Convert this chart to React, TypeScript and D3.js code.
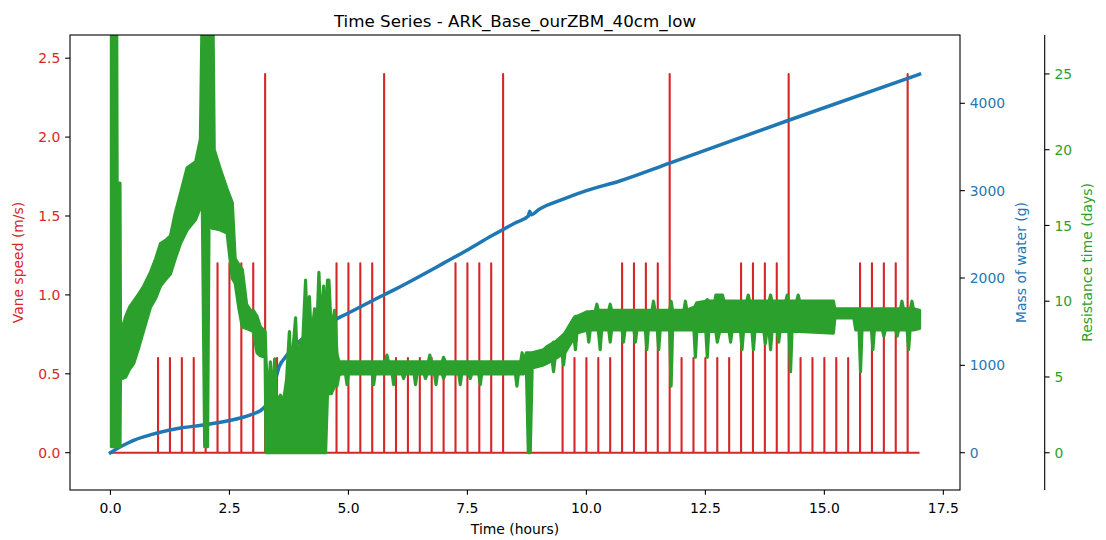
import React from 'react';
import * as d3 from 'd3';

// ---------- data ----------
// Vane speed: baseline 0 with single-sample pulses
const vaneStart = 0;
const vaneEnd = 17;
const vaneSpikeTimes = [
  1.0, 1.25, 1.5, 1.75, 2.0, 2.25, 2.5, 2.75, 3.0, 3.25,
  3.5, 3.75, 4.0, 4.25, 4.5, 4.75, 5.0, 5.25, 5.5, 5.75,
  6.0, 6.25, 6.5, 6.75, 7.0, 7.25, 7.5, 7.75, 8.0, 8.25,
  9.5, 9.75, 10.0, 10.25, 10.5, 10.75, 11.0, 11.25, 11.5, 11.75,
  12.0, 12.25, 12.5, 12.75, 13.0, 13.25, 13.5, 13.75, 14.0, 14.25,
  14.5, 14.75, 15.0, 15.25, 15.5, 15.75, 16.0, 16.25, 16.5, 16.75,
];
const vaneSpikeValues = [
  0.6, 0.6, 0.6, 0.6, 0.6, 1.2, 1.2, 1.2, 1.2, 2.4,
  0.6, 0.6, 0.6, 0.6, 0.6, 1.2, 1.2, 1.2, 1.2, 2.4,
  0.6, 0.6, 0.6, 0.6, 0.6, 1.2, 1.2, 1.2, 1.2, 2.4,
  0.6, 0.6, 0.6, 0.6, 0.6, 1.2, 1.2, 1.2, 1.2, 2.4,
  0.6, 0.6, 0.6, 0.6, 0.6, 1.2, 1.2, 1.2, 1.2, 2.4,
  0.6, 0.6, 0.6, 0.6, 0.6, 1.2, 1.2, 1.2, 1.2, 2.4,
];

// Mass of water (g)
const massTimes = [
  0, 0.1, 0.25, 0.5, 0.75, 1.0, 1.5, 2.0, 2.5, 2.75, 3.0, 3.15, 3.25, 3.35, 3.45, 3.55,
  3.68, 3.92, 4.2, 4.62, 5.0, 5.5, 6.0, 6.5, 7.0, 7.5, 8.0, 8.5, 8.78, 8.81, 8.84, 9.0,
  9.5, 10.0, 10.7, 11.75, 14.25, 17.0,
];
const massValues = [
  0, 35, 80, 145, 190, 228, 285, 320, 368, 400, 445, 480, 530, 620, 800, 990,
  1097, 1250, 1367, 1496, 1600, 1740, 1875, 2020, 2170, 2320, 2480, 2630, 2710, 2765, 2725, 2785,
  2900, 3000, 3111, 3316, 3806, 4334,
];

// Resistance time (days): dense noisy series read as [time, low, high] envelope
const resistanceEnvelope: [number, number, number][] = [
  [0.02, 0.4, 30], [0.13, 0.4, 30], [0.14, 0.4, 17.8], [0.2, 0.4, 17.8],
  [0.21, 4.9, 8.6], [0.25, 4.9, 8.2], [0.32, 5.0, 9.0], [0.4, 5.5, 9.6], [0.49, 5.9, 10.0],
  [0.6, 7.0, 10.5], [0.7, 8.1, 11.0], [0.84, 9.6, 11.9], [0.95, 10.2, 12.8], [1.05, 11.0, 13.8],
  [1.15, 11.4, 14.0], [1.26, 11.8, 14.3], [1.36, 12.8, 15.8], [1.47, 13.8, 17.1], [1.61, 14.7, 18.8],
  [1.79, 15.4, 19.2], [1.89, 16.2, 20.7], [1.93, 16.5, 30], [1.98, 0.4, 30], [2.04, 0.4, 30],
  [2.07, 15.0, 30], [2.15, 14.8, 30], [2.18, 14.8, 20.0], [2.31, 14.7, 18.7], [2.45, 14.5, 17.4],
  [2.56, 11.5, 16.5], [2.62, 11.2, 12.8], [2.7, 9.5, 12.4], [2.77, 8.3, 12.1], [2.86, 8.2, 9.8],
  [2.94, 8.1, 9.4], [3.0, 8.0, 9.4], [3.08, 6.6, 9.0], [3.15, 6.4, 8.3], [3.25, 6.3, 8.0],
  [3.27, 0, 6.0], [3.32, 0, 3.4], [3.36, 0, 6.0], [3.4, 0, 3.3], [3.45, 0, 6.2], [3.49, 0, 3.3],
  [3.57, 0, 3.8], [3.63, 0, 3.3], [3.7, 0, 4.8], [3.76, 0, 8.0], [3.8, 0, 4.8], [3.84, 0, 7.0],
  [3.89, 0, 8.9], [3.93, 0, 5.5], [3.99, 0, 7.4], [4.03, 0, 6.6], [4.1, 0, 11.4], [4.14, 0, 7.0],
  [4.18, 0, 10.3], [4.22, 0, 7.5], [4.29, 0, 9.5], [4.33, 0, 7.5], [4.38, 0, 11.9], [4.42, 0, 8.5],
  [4.48, 0, 11.0], [4.52, 0, 8.0], [4.56, 3.9, 11.4], [4.59, 3.9, 11.4], [4.64, 3.9, 8.0],
  [4.71, 4.4, 9.4], [4.76, 4.4, 6.5], [4.8, 5.1, 6.0],
  [4.85, 5.2, 6.0], [4.94, 5.2, 6.0], [4.97, 4.5, 6.0], [5.0, 5.2, 6.0], [5.5, 5.2, 6.0],
  [5.53, 4.5, 6.0], [5.56, 5.2, 6.0], [5.78, 5.2, 6.0], [5.81, 5.2, 6.45], [5.84, 5.2, 6.0],
  [5.92, 5.2, 6.0], [5.95, 4.5, 6.0], [5.98, 5.2, 6.0], [6.13, 5.2, 6.0], [6.16, 4.9, 6.0],
  [6.19, 5.2, 6.0], [6.38, 5.2, 6.0], [6.41, 4.5, 6.0], [6.44, 5.2, 6.0], [6.59, 5.2, 6.0],
  [6.62, 4.9, 6.0], [6.65, 5.2, 6.0], [6.68, 5.2, 6.0], [6.71, 5.2, 6.45], [6.74, 5.2, 6.0],
  [6.81, 5.2, 6.0], [6.84, 4.5, 6.0], [6.87, 5.2, 6.0], [6.97, 5.2, 6.0], [7.0, 4.9, 6.3],
  [7.03, 5.2, 6.0], [7.32, 5.2, 6.0], [7.35, 4.5, 6.0], [7.38, 5.2, 6.0], [7.53, 5.2, 6.0],
  [7.56, 4.9, 6.0], [7.59, 5.2, 6.0], [7.74, 5.2, 6.0], [7.77, 4.5, 6.0], [7.8, 5.2, 6.0],
  [8.51, 5.2, 6.0], [8.54, 4.4, 6.0], [8.57, 5.2, 6.0], [8.62, 5.2, 6.0], [8.65, 5.2, 6.6],
  [8.68, 5.2, 6.0], [8.74, 5.6, 6.6], [8.78, 0, 6.6], [8.82, 0, 6.6], [8.86, 5.6, 6.6],
  [9.1, 5.8, 6.8], [9.17, 5.9, 7.0], [9.28, 6.1, 7.2], [9.31, 5.35, 7.3], [9.34, 6.2, 7.3],
  [9.49, 6.5, 7.7], [9.52, 5.8, 7.8], [9.55, 6.6, 7.9], [9.74, 7.6, 8.9], [9.77, 6.8, 9.0],
  [9.8, 7.9, 9.0], [10.02, 8.1, 9.3], [10.05, 7.3, 9.3], [10.08, 8.1, 9.3], [10.19, 8.1, 9.4],
  [10.22, 8.1, 9.8], [10.25, 8.1, 9.4], [10.29, 6.8, 9.4], [10.32, 8.1, 9.4], [10.47, 8.1, 9.4],
  [10.5, 7.3, 9.8], [10.53, 8.1, 9.4], [10.75, 8.1, 9.4], [10.78, 7.3, 9.4], [10.81, 8.1, 9.4],
  [11.0, 8.1, 9.4], [11.03, 7.3, 9.4], [11.06, 8.1, 9.4], [11.24, 8.1, 9.4], [11.27, 6.8, 9.4],
  [11.3, 8.1, 9.4], [11.38, 8.1, 9.4], [11.41, 8.1, 10.0], [11.44, 8.1, 9.4], [11.49, 8.1, 9.4],
  [11.52, 6.8, 9.4], [11.55, 8.1, 9.4], [11.75, 8.1, 9.4], [11.78, 4.4, 10.0], [11.81, 8.1, 9.4],
  [12.05, 8.1, 9.4], [12.08, 8.1, 10.0], [12.11, 8.1, 9.4], [12.26, 8.1, 9.6], [12.29, 6.3, 9.7],
  [12.32, 8.0, 9.9], [12.51, 8.0, 10.0], [12.54, 6.3, 10.1], [12.57, 8.0, 10.0], [12.7, 8.0, 10.0],
  [12.72, 8.0, 10.4], [12.75, 7.3, 10.4], [12.8, 8.0, 10.4], [12.86, 8.0, 10.4], [12.89, 8.0, 10.0],
  [13.0, 8.0, 10.0], [13.03, 7.3, 10.0], [13.06, 8.0, 10.0], [13.24, 8.0, 10.0], [13.27, 6.8, 10.0],
  [13.3, 8.0, 10.0], [13.37, 8.0, 10.0], [13.4, 8.0, 10.4], [13.43, 8.0, 10.0], [13.48, 8.0, 10.0],
  [13.51, 6.8, 10.0], [13.54, 8.0, 10.0], [13.73, 8.0, 10.0], [13.76, 7.2, 10.0], [13.79, 8.0, 10.0],
  [13.84, 8.0, 10.0], [13.87, 6.8, 10.4], [13.9, 8.0, 10.0], [14.01, 8.0, 10.0], [14.04, 7.3, 10.0],
  [14.07, 8.0, 10.0], [14.19, 8.0, 10.0], [14.22, 8.0, 10.4], [14.25, 8.0, 10.0], [14.26, 8.0, 10.0],
  [14.29, 5.35, 10.0], [14.32, 8.0, 10.0], [14.42, 8.0, 10.0], [14.45, 8.0, 10.4], [14.48, 8.0, 10.0],
  [15.19, 7.9, 10.0], [15.22, 8.9, 9.5], [15.62, 8.9, 9.5], [15.66, 8.1, 9.5], [15.73, 8.1, 9.5],
  [15.76, 5.35, 9.5], [15.79, 8.1, 9.5], [15.99, 8.1, 9.5], [16.02, 6.8, 9.5], [16.05, 8.1, 9.5],
  [16.22, 8.1, 9.5], [16.25, 7.7, 9.5], [16.28, 8.1, 9.5], [16.5, 8.1, 9.5], [16.53, 7.7, 9.5],
  [16.56, 8.1, 9.5], [16.6, 8.1, 9.5], [16.63, 8.1, 10.0], [16.66, 8.1, 9.5], [16.74, 8.1, 9.5],
  [16.77, 6.8, 9.5], [16.8, 8.1, 9.5], [16.81, 8.1, 9.5], [16.84, 8.1, 10.0], [16.87, 8.1, 9.5],
  [17.0, 8.2, 9.4],
];

const xTicks = [0, 2.5, 5, 7.5, 10, 12.5, 15, 17.5];
const vaneTicks = [0, 0.5, 1, 1.5, 2, 2.5];
const massTicks = [0, 1000, 2000, 3000, 4000];
const resistanceTicks = [0, 5, 10, 15, 20, 25];

const titleText = 'Time Series - ARK_Base_ourZBM_40cm_low';
const xLabel = 'Time (hours)';
const vaneLabel = 'Vane speed (m/s)';
const massLabel = 'Mass of water (g)';
const resistanceLabel = 'Resistance time (days)';

// ---------- layout ----------
const W = 1106;
const H = 540;
const L = 70;
const R = 960;
const T = 35;
const B = 490;
const SPINE3 = 1044.7;
const TICK = 4.86;
const PAD = 4.86;
const RED = '#d62728';
const BLUE = '#1f77b4';
const GREEN = '#2ca02c';
const FONT = 'DejaVu Sans, sans-serif';
const FS = 13.9;

export default function App() {
  const x = d3.scaleLinear().domain([-0.85, 17.85]).range([L, R]);
  const yV = d3.scaleLinear().domain([-0.2364, 2.647]).range([B, T]);
  const yM = d3.scaleLinear().domain([-427, 4782]).range([B, T]);
  const yR = d3.scaleLinear().domain([-2.46, 27.57]).range([B, T]);

  const vanePts: [number, number][] = [[vaneStart, 0]];
  vaneSpikeTimes.forEach((t, i) => {
    vanePts.push([t, 0], [t, vaneSpikeValues[i]], [t, 0]);
  });
  vanePts.push([vaneEnd, 0]);
  const vanePath = d3
    .line<[number, number]>()
    .x((d) => x(d[0]))
    .y((d) => yV(d[1]))(vanePts) as string;

  const massPath = d3
    .line<number>()
    .x((_, i) => x(massTimes[i]))
    .y((d) => yM(d))
    .curve(d3.curveMonotoneX)(massValues) as string;

  const resPath = d3
    .area<[number, number, number]>()
    .x((d) => x(d[0]))
    .y0((d) => yR(d[1]))
    .y1((d) => yR(d[2]))(resistanceEnvelope) as string;

  const fmt1 = (v: number) => v.toFixed(1);

  return (
    <svg
      width={W}
      height={H}
      viewBox={`0 0 ${W} ${H}`}
      style={{ position: 'absolute', left: 0, top: 0, background: '#fff' }}
      fontFamily={FONT}
    >
      <defs>
        <clipPath id="plotClip">
          <rect x={L} y={T} width={R - L} height={B - T} />
        </clipPath>
      </defs>
      <rect x={0} y={0} width={W} height={H} fill="#fff" />

      <g clipPath="url(#plotClip)">
        <path d={vanePath} fill="none" stroke={RED} strokeWidth={2.1} strokeLinejoin="round" />
        <path d={massPath} fill="none" stroke={BLUE} strokeWidth={3.5} strokeLinecap="square" />
        <path
          d={resPath}
          fill={GREEN}
          stroke={GREEN}
          strokeWidth={3.2}
          strokeLinejoin="round"
        />
      </g>

      {/* spines */}
      <rect x={L} y={T} width={R - L} height={B - T} fill="none" stroke="#000" strokeWidth={1.1} />
      <line x1={SPINE3} x2={SPINE3} y1={T} y2={B} stroke="#000" strokeWidth={1.1} />

      {/* x axis */}
      {xTicks.map((t) => (
        <g key={`x${t}`}>
          <line x1={x(t)} x2={x(t)} y1={B} y2={B + TICK} stroke="#000" strokeWidth={1.1} />
          <text x={x(t)} y={513} textAnchor="middle" fontSize={FS} fill="#000">
            {fmt1(t)}
          </text>
        </g>
      ))}

      {/* left axis */}
      {vaneTicks.map((v) => (
        <g key={`v${v}`}>
          <line x1={L - TICK} x2={L} y1={yV(v)} y2={yV(v)} stroke="#000" strokeWidth={1.1} />
          <text x={L - TICK - PAD} y={yV(v) + 5.1} textAnchor="end" fontSize={FS} fill={RED}>
            {fmt1(v)}
          </text>
        </g>
      ))}

      {/* mass axis */}
      {massTicks.map((v) => (
        <g key={`m${v}`}>
          <line x1={R} x2={R + TICK} y1={yM(v)} y2={yM(v)} stroke="#000" strokeWidth={1.1} />
          <text x={R + TICK + PAD} y={yM(v) + 5.1} textAnchor="start" fontSize={FS} fill={BLUE}>
            {String(v)}
          </text>
        </g>
      ))}

      {/* resistance axis */}
      {resistanceTicks.map((v) => (
        <g key={`r${v}`}>
          <line
            x1={SPINE3}
            x2={SPINE3 + TICK}
            y1={yR(v)}
            y2={yR(v)}
            stroke="#000"
            strokeWidth={1.1}
          />
          <text
            x={SPINE3 + TICK + PAD}
            y={yR(v) + 5.1}
            textAnchor="start"
            fontSize={FS}
            fill={GREEN}
          >
            {String(v)}
          </text>
        </g>
      ))}

      {/* labels */}
      <text x={(L + R) / 2} y={26.7} textAnchor="middle" fontSize={16.7} fill="#000">
        {titleText}
      </text>
      <text x={(L + R) / 2} y={534} textAnchor="middle" fontSize={FS} fill="#000">
        {xLabel}
      </text>
      <text
        transform={`translate(23, ${(T + B) / 2}) rotate(-90)`}
        textAnchor="middle"
        fontSize={FS}
        fill={RED}
      >
        {vaneLabel}
      </text>
      <text
        transform={`translate(1025.5, ${(T + B) / 2}) rotate(-90)`}
        textAnchor="middle"
        fontSize={FS}
        fill={BLUE}
      >
        {massLabel}
      </text>
      <text
        transform={`translate(1091.5, ${(T + B) / 2}) rotate(-90)`}
        textAnchor="middle"
        fontSize={FS}
        fill={GREEN}
      >
        {resistanceLabel}
      </text>
    </svg>
  );
}
